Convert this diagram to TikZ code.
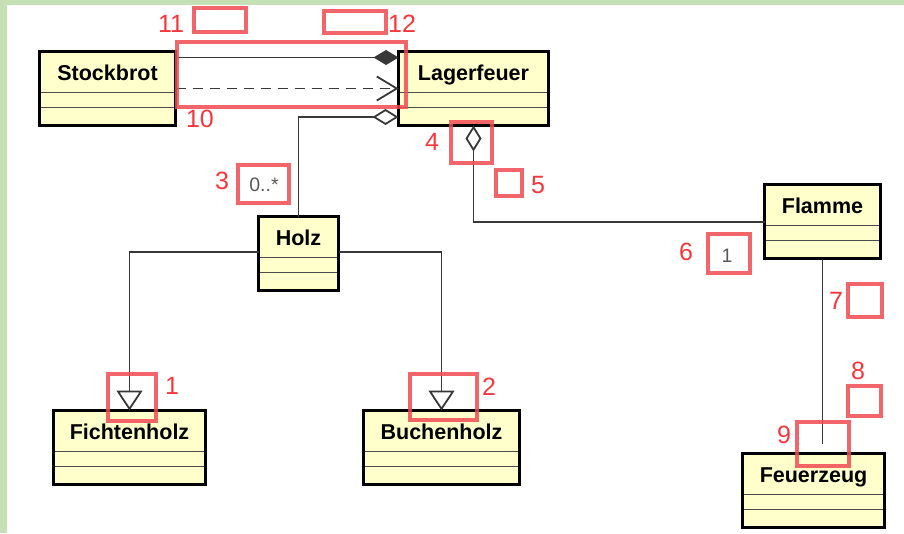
\documentclass[tikz,border=0pt]{standalone}
\usepackage{fontspec}
\setmainfont{Liberation Sans}
\usetikzlibrary{arrows.meta}

\begin{document}
\begin{tikzpicture}[x=1pt, y=-1pt,
  clase/.style={draw=black, line width=3pt, fill=amarillo, anchor=north west,
    inner xsep=0pt, inner ysep=0pt, outer sep=0pt,
    text height=28.5pt, text depth=45.5pt,
    font=\fontsize{21.5}{24}\selectfont\bfseries,
    path picture={\draw[black!70, line width=1.7pt]
      ([yshift=-41pt]path picture bounding box.north west) --
      ([yshift=-41pt]path picture bounding box.north east)
      ([yshift=-56pt]path picture bounding box.north west) --
      ([yshift=-56pt]path picture bounding box.north east);}},
  linea/.style={line width=1.8pt, draw=black!78},
  composicion/.style={linea, -{Diamond[length=25pt, width=15pt]}},
  agregacion/.style={linea, -{Diamond[open, length=26pt, width=16pt]}},
  dependencia/.style={linea, dash pattern=on 10pt off 7pt,
    -{Straight Barb[length=20pt, width=24pt]}},
  herencia/.style={linea, -{Triangle[open, length=20pt, width=26pt]}},
  mult/.style={text=black!65, font=\fontsize{19.5}{22}\selectfont},
  marca/.style={draw=rojo, line width=3.2pt, draw opacity=0.85},
  numero/.style={text=rojotexto, font=\fontsize{25}{28}\selectfont}]
  \definecolor{amarillo}{RGB}{255,255,204}
  \definecolor{verde}{RGB}{197,224,180}
  \definecolor{rojo}{RGB}{240,75,82}
  \definecolor{rojotexto}{RGB}{245,55,60}
  \useasboundingbox (0,0) rectangle (904,533);
  \fill[white] (0,0) rectangle (904,533);
  \fill[verde] (0,0) rectangle (904,5); % borde superior
  \fill[verde] (0,0) rectangle (7,533); % borde izquierdo

  % clases
  \node[clase, minimum width=136pt] (stockbrot) at (39.5,51.5) {Stockbrot};
  \node[clase, minimum width=150pt] (lagerfeuer) at (398.5,51.5) {Lagerfeuer};
  \node[clase, minimum width=80pt] (holz) at (258.5,216.5) {Holz};
  \node[clase, minimum width=116pt] (flamme) at (764.5,184.5) {Flamme};
  \node[clase, minimum width=142pt] (feuerzeug) at (742.5,453.5) {Feuerzeug};
  \node[clase, minimum width=152pt] (fichtenholz) at (53.5,410.5) {Fichtenholz};
  \node[clase, minimum width=156pt] (buchenholz) at (363.5,410.5) {Buchenholz};

  % relaciones
  \draw[composicion] ([yshift=-6pt]stockbrot.north east) --
  ([yshift=-6pt]lagerfeuer.north west);
  \draw[dependencia] ([yshift=-37pt]stockbrot.north east) --
  ([yshift=-37pt]lagerfeuer.north west);
  \draw[agregacion] (holz.north) |- ([yshift=8.5pt]lagerfeuer.south west);
  \draw[agregacion] ([yshift=-37.5pt]flamme.north west) -| (lagerfeuer.south);
  \draw[linea, shorten >=10pt] (flamme.south) -- (flamme.south |- feuerzeug.north);
  \draw[herencia] ([yshift=-35.5pt]holz.north west) -| (fichtenholz.north);
  \draw[herencia] ([yshift=-35.5pt]holz.north east) -| (buchenholz.north);
  \node[mult] (mholz) at (264,185) {0..*};
  \node[mult] (mflamme) at (727,256) {1};

  % marcas numeradas
  \draw[marca] (108,374) rectangle (156,421); \node[numero] (n1) at (172,386) {1};
  \draw[marca] (410,374) rectangle (477,420); \node[numero] (n2) at (489,387) {2};
  \draw[marca] (238,165) rectangle (289,203); \node[numero] (n3) at (222,181) {3};
  \draw[marca] (451,122) rectangle (492,163); \node[numero] (n4) at (432,142) {4};
  \draw[marca] (496,170) rectangle (522,196); \node[numero] (n5) at (538,185) {5};
  \draw[marca] (708,234) rectangle (750,273); \node[numero] (n6) at (686,252) {6};
  \draw[marca] (848,284) rectangle (882,317); \node[numero] (n7) at (836,301) {7};
  \draw[marca] (848,386) rectangle (881,416); \node[numero] (n8) at (858,371) {8};
  \draw[marca] (797,422) rectangle (849,466); \node[numero] (n9) at (784,435) {9};
  \draw[marca] (177,42) rectangle (406,107); \node[numero] (n10) at (200,119) {10};
  \draw[marca] (194,8) rectangle (246,32); \node[numero] (n11) at (171,24) {11};
  \draw[marca] (324,11) rectangle (386,33); \node[numero] (n12) at (402,24) {12};
\end{tikzpicture}
\end{document}
